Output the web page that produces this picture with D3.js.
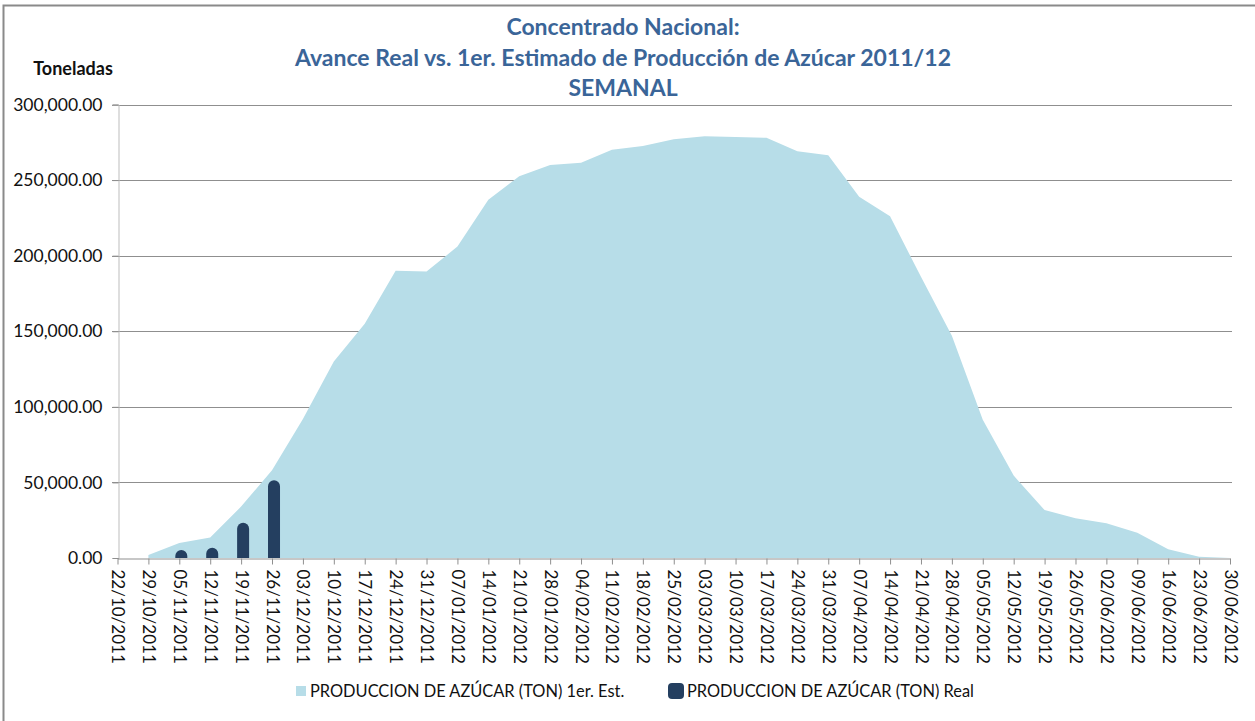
<!DOCTYPE html>
<html>
<head>
<meta charset="utf-8">
<script src="https://cdn.jsdelivr.net/npm/d3@7"></script>
<style>
  body { margin: 0; background: #fff; }
  text { font-family: Lato, "Open Sans", sans-serif; }
</style>
</head>
<body>
<div id="chart"></div>
<script>
// semanas (fecha de corte) y producción estimada (toneladas)
const weeks = [
  "29/10/2011", "05/11/2011", "12/11/2011", "19/11/2011", "26/11/2011", "03/12/2011",
  "10/12/2011", "17/12/2011", "24/12/2011", "31/12/2011", "07/01/2012", "14/01/2012",
  "21/01/2012", "28/01/2012", "04/02/2012", "11/02/2012", "18/02/2012", "25/02/2012",
  "03/03/2012", "10/03/2012", "17/03/2012", "24/03/2012", "31/03/2012", "07/04/2012",
  "14/04/2012", "21/04/2012", "28/04/2012", "05/05/2012", "12/05/2012", "19/05/2012",
  "26/05/2012", "02/06/2012", "09/06/2012", "16/06/2012", "23/06/2012", "30/06/2012"
];
const estimated = [
  2000, 10000, 13500, 34000, 58000, 92000,
  130000, 155000, 190000, 189500, 206000, 237000,
  252500, 260000, 261500, 270000, 272500, 277000,
  279000, 278500, 278000, 269000, 266500, 239000,
  226000, 186000, 147000, 91500, 54500, 31700,
  26300, 23000, 16700, 5800, 900, 0
];

// avance real
const realWeeks = ["05/11/2011", "12/11/2011", "19/11/2011", "26/11/2011"];
const realValues = [5300, 6800, 23300, 51500];

const yTicks = [0, 50000, 100000, 150000, 200000, 250000, 300000];
const xTickLabels = ["22/10/2011"].concat(weeks);
const titleLines = [
  "Concentrado Nacional:",
  "Avance Real vs. 1er. Estimado de Producción de Azúcar 2011/12",
  "SEMANAL"
];
const legendLabels = [
  "PRODUCCION DE AZÚCAR (TON) 1er. Est.",
  "PRODUCCION DE AZÚCAR (TON) Real"
];

const width = 1255;
const height = 721;
const parse = d3.timeParse("%d/%m/%Y");
const fmtDate = d3.timeFormat("%d/%m/%Y");

const svg = d3.select("#chart")
  .append("svg")
  .attr("width", width)
  .attr("height", height);

// marco exterior
svg.append("rect")
  .attr("x", 3.5).attr("y", 5.5)
  .attr("width", 1270).attr("height", 730)
  .attr("fill", "none")
  .attr("stroke", "#8a8a8a")
  .attr("stroke-width", 2);

const x = d3.scaleTime()
  .domain([parse(xTickLabels[0]), parse(xTickLabels[xTickLabels.length - 1])])
  .range([117.5, 1230]);

const y = d3.scaleLinear()
  .domain([0, 300000])
  .range([558, 104.5]);

// lineas de cuadricula
svg.append("g")
  .selectAll("line")
  .data(yTicks.filter(d => d > 0))
  .enter().append("line")
  .attr("x1", 112).attr("x2", 1232)
  .attr("y1", d => Math.round(y(d)) + 0.5)
  .attr("y2", d => Math.round(y(d)) + 0.5)
  .attr("stroke", "#8f8f8f");

// area estimada
const estData = weeks.map((w, i) => ({ date: parse(w), value: estimated[i] }));
const area = d3.area()
  .x(d => x(d.date))
  .y0(y(0))
  .y1(d => y(d.value));

svg.append("path")
  .datum(estData)
  .attr("d", area)
  .attr("fill", "#b7dde8");

// barras reales
const realData = realWeeks.map((w, i) => ({ date: parse(w), value: realValues[i] }));
const barW = 12;
svg.append("g")
  .selectAll("path")
  .data(realData)
  .enter().append("path")
  .attr("d", d => {
    const cx = x(d.date) + 2;
    const top = y(d.value);
    const r = barW / 2;
    const bottom = y(0);
    return `M${cx - r},${bottom} L${cx - r},${top + r} A${r},${r} 0 0 1 ${cx + r},${top + r} L${cx + r},${bottom} Z`;
  })
  .attr("fill", "#243f60");

// eje Y
const yAxis = svg.append("g")
  .attr("transform", "translate(118.5,0)")
  .call(d3.axisLeft(y)
    .tickValues(yTicks)
    .tickSize(6)
    .tickPadding(10)
    .tickFormat(d3.format(",.2f")));
yAxis.select(".domain").attr("stroke", "#bdbdbd");
yAxis.selectAll(".tick line").attr("stroke", "#8f8f8f");
yAxis.selectAll("text")
  .attr("font-family", "Lato, sans-serif")
  .attr("font-size", 17.5)
  .attr("fill", "#111");

// eje X
const xAxis = svg.append("g")
  .attr("transform", "translate(0,558.5)")
  .call(d3.axisBottom(x)
    .tickValues(xTickLabels.map(parse))
    .tickSize(6)
    .tickSizeOuter(0)
    .tickFormat(fmtDate));
xAxis.select(".domain").attr("stroke", "#8f8f8f");
xAxis.selectAll(".tick line").attr("stroke", "#8f8f8f");
xAxis.selectAll("text")
  .attr("font-family", "Lato, sans-serif")
  .attr("font-size", 17)
  .attr("fill", "#111")
  .attr("transform", "rotate(90)")
  .attr("text-anchor", "start")
  .attr("x", 11)
  .attr("y", 0)
  .attr("dy", "0.35em");

// titulo
svg.append("g")
  .selectAll("text")
  .data(titleLines)
  .enter().append("text")
  .attr("x", 623)
  .attr("y", (d, i) => 35 + i * 30.7)
  .attr("text-anchor", "middle")
  .attr("font-size", 23)
  .attr("font-weight", "bold")
  .attr("fill", "#3a6598")
  .text(d => d);

svg.append("text")
  .attr("x", 73)
  .attr("y", 75)
  .attr("text-anchor", "middle")
  .attr("font-size", 18)
  .attr("font-weight", "bold")
  .attr("fill", "#111")
  .text("Toneladas");

// leyenda
const legend = svg.append("g");
legend.append("rect")
  .attr("x", 296).attr("y", 686).attr("width", 10).attr("height", 10)
  .attr("fill", "#b7dde8");
legend.append("text")
  .attr("x", 310).attr("y", 697)
  .attr("font-size", 16.4)
  .attr("fill", "#111")
  .text(legendLabels[0]);
legend.append("rect")
  .attr("x", 668).attr("y", 683).attr("width", 16).attr("height", 16)
  .attr("rx", 4)
  .attr("fill", "#243f60");
legend.append("text")
  .attr("x", 687).attr("y", 697)
  .attr("font-size", 16.4)
  .attr("fill", "#111")
  .text(legendLabels[1]);
</script>
</body>
</html>
